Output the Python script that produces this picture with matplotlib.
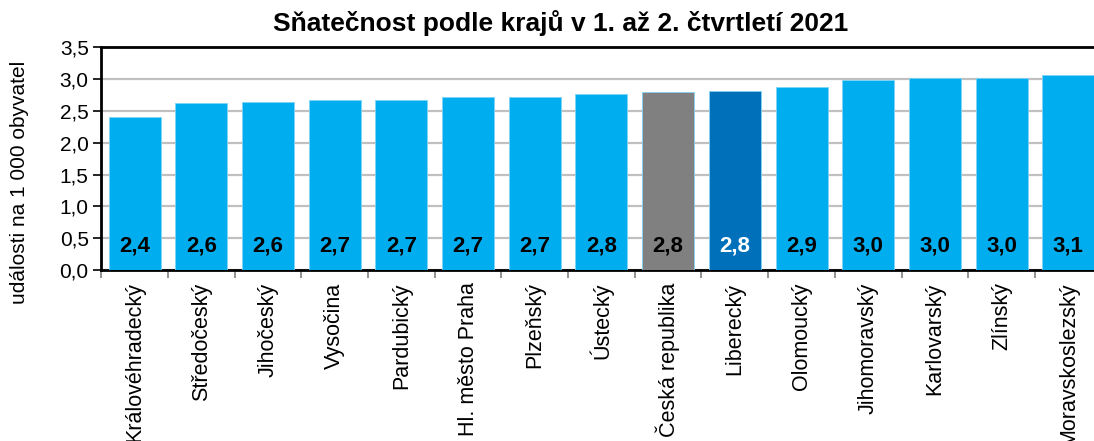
import matplotlib
matplotlib.use("Agg")
import matplotlib.pyplot as plt
from matplotlib.ticker import FixedLocator, FuncFormatter

plt.rcParams['font.family'] = ['Liberation Sans', 'DejaVu Sans']

categories = ["Královéhradecký", "Středočeský", "Jihočeský", "Vysočina", "Pardubický",
              "Hl. město Praha", "Plzeňský", "Ústecký", "Česká republika", "Liberecký",
              "Olomoucký", "Jihomoravský", "Karlovarský", "Zlínský", "Moravskoslezský"]
values = [2.40, 2.62, 2.64, 2.67, 2.67, 2.72, 2.72, 2.76, 2.80, 2.81,
          2.88, 2.98, 3.01, 3.02, 3.07]
bar_colors = ["#00AEEF"] * 8 + ["#808080", "#0070BA"] + ["#00AEEF"] * 5
label_colors = ["black"] * 9 + ["white"] + ["black"] * 5
yticks = [0.0, 0.5, 1.0, 1.5, 2.0, 2.5, 3.0, 3.5]

fig = plt.figure(figsize=(10.94, 4.41), dpi=100)
ax = fig.add_axes([0.0925, 0.3878, 0.9145, 0.5049])

x = list(range(len(categories)))
ax.bar(x, values, width=0.78, color=bar_colors, edgecolor="#7FD3F5", linewidth=0.6, zorder=3)
for xi, v, c in zip(x, values, label_colors):
    ax.text(xi, 0.37, f"{v:.1f}".replace(".", ","), ha="center", va="center",
            fontsize=16, fontweight="bold", color=c, zorder=4)

ax.set_xlim(-0.5, len(categories) - 0.5)
ax.set_ylim(0, 3.5)
ax.set_yticks(yticks)
ax.yaxis.set_major_formatter(FuncFormatter(lambda v, p: f"{v:.1f}".replace(".", ",")))
ax.grid(axis="y", color="#C0C0C0", linewidth=1.6, zorder=0)
ax.set_axisbelow(True)

ax.set_xticks(x)
ax.set_xticklabels(categories, rotation=90, fontsize=15.5)
ax.xaxis.set_minor_locator(FixedLocator([i - 0.5 for i in range(len(categories) + 1)]))
ax.tick_params(axis="x", which="major", length=0, pad=9)
ax.tick_params(axis="x", which="minor", length=6, width=1.2, color="#808080", direction="out")
ax.tick_params(axis="y", length=6, width=1.2, labelsize=15, direction="out", pad=3)

for s in ["left", "bottom", "top"]:
    ax.spines[s].set_linewidth(2)
    ax.spines[s].set_color("black")
ax.spines["right"].set_visible(False)

ax.set_ylabel("události na 1 000 obyvatel", fontsize=15, labelpad=10)
ax.yaxis.set_label_coords(-0.072, 0.395)
fig.text(0.512, 0.947, "Sňatečnost podle krajů v 1. až 2. čtvrtletí 2021",
         ha="center", va="center", fontsize=19, fontweight="bold")

fig.savefig("out.png", dpi=100)
